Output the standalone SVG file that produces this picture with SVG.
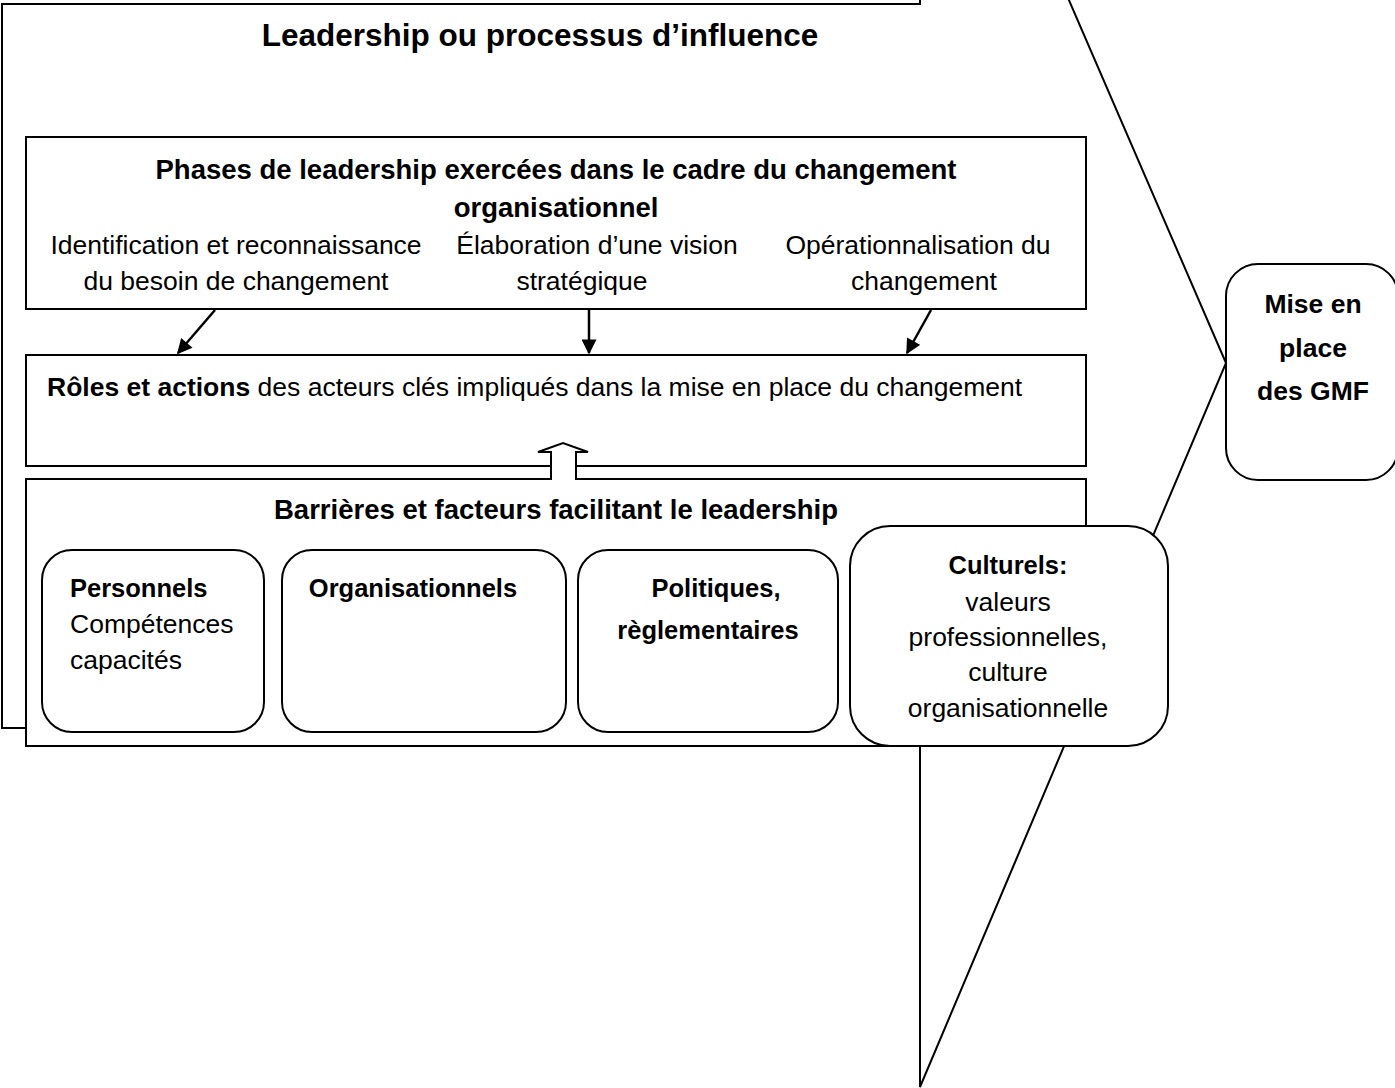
<svg xmlns="http://www.w3.org/2000/svg" width="1395" height="1088" viewBox="0 0 1395 1088">
  <style>
    .ln { fill: #fff; stroke: #000; stroke-width: 2; }
    .t { font-family: "Liberation Sans", Arial, sans-serif; font-size: 26.5px; fill: #000; }
    .b { font-weight: bold; }
    .c { text-anchor: middle; }
    .h { font-size: 27.5px; }
    .bx { font-size: 25.5px; }
    .title { font-size: 31.5px; }
  </style>
  <defs>
    <marker id="head" viewBox="0 0 10 10" refX="9" refY="5" markerWidth="7" markerHeight="6" orient="auto" markerUnits="strokeWidth">
      <path d="M0,0 L10,5 L0,10 z" fill="#000"/>
    </marker>
  </defs>
  <rect width="1395" height="1088" fill="#fff"/>

  <!-- big block arrow: leadership process feeding the GMF implementation -->
  <g id="influence">
    <path class="ln" d="M2,728 L2,4 L920,4 L920,-344 L1226,363 L920,1087 L920,728 Z"/>
    <text class="t b c title" x="540" y="46">Leadership ou processus d’influence</text>
  </g>

  <g id="mise-en-place">
    <rect class="ln" x="1226" y="264" width="172" height="216" rx="32"/>
    <text class="t b c" x="1313" y="313">Mise en</text>
    <text class="t b c" x="1313" y="357">place</text>
    <text class="t b c" x="1313" y="400">des GMF</text>
  </g>

  <g id="phases">
    <rect class="ln" x="26" y="137" width="1060" height="172"/>
    <text class="t b c h" x="556" y="179">Phases de leadership exercées dans le cadre du changement</text>
    <text class="t b c h" x="556" y="217">organisationnel</text>
    <text class="t c" x="236" y="254">Identification et reconnaissance</text>
    <text class="t c" x="236" y="290">du besoin de changement</text>
    <text class="t c" x="597" y="254">Élaboration d’une vision</text>
    <text class="t c" x="582" y="290">stratégique</text>
    <text class="t c" x="918" y="254">Opérationnalisation du</text>
    <text class="t c" x="924" y="290">changement</text>
  </g>

  <g id="roles">
    <rect class="ln" x="26" y="355" width="1060" height="111"/>
    <text class="t" x="47" y="396"><tspan class="b">Rôles et actions</tspan> des acteurs clés impliqués dans la mise en place du changement</text>
  </g>

  <g id="barrieres">
    <rect class="ln" x="26" y="479" width="1060" height="267"/>
    <text class="t b c h" x="556" y="519">Barrières et facteurs facilitant le leadership</text>
  </g>

  <g id="personnels">
    <rect class="ln" x="42" y="550" width="222" height="182" rx="30"/>
    <text class="t b bx" x="70" y="597">Personnels</text>
    <text class="t" x="70" y="633">Compétences</text>
    <text class="t" x="70" y="669">capacités</text>
  </g>

  <g id="organisationnels">
    <rect class="ln" x="282" y="550" width="284" height="182" rx="30"/>
    <text class="t b c bx" x="413" y="597">Organisationnels</text>
  </g>

  <g id="politiques">
    <rect class="ln" x="578" y="550" width="260" height="182" rx="30"/>
    <text class="t b c bx" x="716" y="597">Politiques,</text>
    <text class="t b c bx" x="708" y="639">règlementaires</text>
  </g>

  <g id="culturels">
    <rect class="ln" x="850" y="526" width="318" height="220" rx="40"/>
    <text class="t b c bx" x="1008" y="574">Culturels:</text>
    <text class="t c" x="1008" y="611">valeurs</text>
    <text class="t c" x="1008" y="646">professionnelles,</text>
    <text class="t c" x="1008" y="681">culture</text>
    <text class="t c" x="1008" y="717">organisationnelle</text>
  </g>

  <g id="connectors" stroke="#000" stroke-width="2.5" fill="none">
    <line x1="215" y1="310" x2="178" y2="353" marker-end="url(#head)"/>
    <line x1="589" y1="310" x2="589" y2="353" marker-end="url(#head)"/>
    <line x1="931" y1="310" x2="907" y2="353" marker-end="url(#head)"/>
    <path d="M551,480 L551,452 L538,452 L563,443 L588,452 L576,452 L576,480" fill="#fff" stroke-width="2"/>
  </g>
</svg>
